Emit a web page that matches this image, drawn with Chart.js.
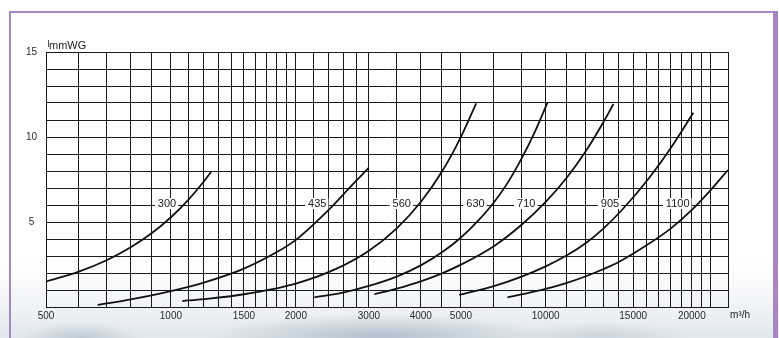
<!DOCTYPE html>
<html>
<head>
<meta charset="utf-8">
<script src="https://cdn.jsdelivr.net/npm/chart.js@4/dist/chart.umd.min.js"></script>
<style>
  html, body { margin: 0; padding: 0; }
  body { width: 779px; height: 338px; overflow: hidden; position: relative; background: #ffffff; }
  #bg { position: absolute; left: 0; top: 0; width: 779px; height: 338px;
    background:
      radial-gradient(ellipse 60px 16px at 80px 338px, rgba(160,178,192,0.55), rgba(160,178,192,0) 100%),
      radial-gradient(ellipse 170px 22px at 380px 336px, rgba(140,160,176,0.55), rgba(140,160,176,0) 100%),
      radial-gradient(ellipse 90px 14px at 600px 336px, rgba(175,190,202,0.45), rgba(175,190,202,0) 100%),
      linear-gradient(180deg, rgba(255,255,255,0) 260px, rgba(230,237,242,0.5) 300px, rgba(208,219,228,0.65) 338px);
  }
  #frame { position: absolute; left: 9px; top: 11px; width: 762px; height: 340px;
    border-left: 2px solid #a886c4; border-top: 2px solid #a886c4; border-right: 5px solid #a886c4; }
  #wrap { position: absolute; left: 0; top: 0; width: 779px; height: 338px; }
</style>
</head>
<body>
<div id="bg"></div>
<div id="frame"></div>
<div id="wrap"><canvas id="c" width="779" height="338"></canvas></div>
<script>
// ---- data ----
const seriesNames = ['300', '435', '560', '630', '710', '905', '1100'];

const flow300 = [500, 600, 700, 800, 900, 1000, 1100, 1200, 1254];
const pres300 = [1.49, 2.08, 2.75, 3.51, 4.35, 5.28, 6.29, 7.38, 8.0];

const flow435 = [666, 800, 1000, 1200, 1500, 1800, 2000, 2450, 2700, 2996];
const pres435 = [0.12, 0.45, 0.94, 1.44, 2.26, 3.23, 3.95, 5.94, 7.04, 8.18];

const flow560 = [1065, 1200, 1500, 2000, 2500, 3000, 3500, 4000, 4500, 5000, 5440];
const pres560 = [0.35, 0.46, 0.75, 1.38, 2.24, 3.31, 4.63, 6.18, 7.97, 10.01, 11.98];

const flow630 = [2216, 2600, 3000, 3500, 4000, 4500, 5000, 5500, 6000, 6500, 7000, 7500, 8080];
const pres630 = [0.57, 0.85, 1.24, 1.79, 2.45, 3.22, 4.09, 5.08, 6.15, 7.36, 8.74, 10.2, 12.02];

const flow710 = [3091, 3500, 4000, 4500, 5000, 6000, 7000, 8000, 9000, 10000, 11000, 11650];
const pres710 = [0.75, 1.08, 1.51, 1.98, 2.49, 3.58, 4.84, 6.18, 7.62, 9.18, 10.84, 11.94];

const flow905 = [4952, 6000, 7000, 8000, 9000, 10000, 11000, 12260, 14200, 16045, 18150];
const pres905 = [0.71, 1.23, 1.79, 2.39, 3.04, 3.77, 4.6, 5.75, 7.59, 9.38, 11.42];

const flow1100 = [6472, 7000, 8000, 9000, 10000, 11000, 12000, 14000, 16000, 18000, 20000, 22000];
const pres1100 = [0.57, 0.74, 1.06, 1.42, 1.81, 2.22, 2.65, 3.63, 4.61, 5.71, 6.89, 8.06];

// printed grid (log paper) and the labels printed under it
const xGridValues = [500, 600, 700, 800, 900, 1000, 1100, 1200, 1300, 1400, 1500, 1600, 1700, 1800, 1900, 2000,
  2200, 2400, 2600, 2800, 3000, 3500, 4000, 4500, 5000, 6000, 7000, 8000, 9000, 10000, 11000, 12000, 13000,
  14000, 15000, 16000, 17000, 18000, 19000, 20000, 22000];
const xTickAt = [500, 1000, 1500, 2000, 3000, 4000, 5000, 8000, 13000, 18000];
const xTickText = ['500', '1000', '1500', '2000', '3000', '4000', '5000', '10000', '15000', '20000'];
const yTickText = [5, 10, 15];
const yUnit = 'mmWG';
const xUnit = 'm³/h';
const labelLevel = 6;

// ---- chart ----
const flows = [flow300, flow435, flow560, flow630, flow710, flow905, flow1100];
const press = [pres300, pres435, pres560, pres630, pres710, pres905, pres1100];
const FONT = "'Liberation Sans', Arial, Helvetica, sans-serif";

const datasets = seriesNames.map((name, i) => ({
  label: name,
  data: flows[i].map((x, k) => ({ x: x, y: press[i][k] })),
  borderColor: '#111111',
  borderWidth: 1.8,
  pointRadius: 0,
  fill: false,
  cubicInterpolationMode: 'monotone'
}));

const extras = {
  id: 'extras',
  afterDatasetsDraw(chart) {
    const ctx = chart.ctx;
    const ys = chart.scales.y;
    const area = chart.chartArea;
    const y6 = ys.getPixelForValue(labelLevel);
    ctx.save();
    ctx.font = '11px ' + FONT;
    ctx.textBaseline = 'middle';
    chart.data.datasets.forEach((ds, i) => {
      const pts = chart.getDatasetMeta(i).data;
      let xc = null;
      for (let k = 1; k < pts.length; k++) {
        const a = pts[k - 1], b = pts[k];
        if (a.y >= y6 && b.y <= y6) {
          const t = (a.y - y6) / (a.y - b.y);
          xc = a.x + t * (b.x - a.x);
          break;
        }
      }
      if (xc === null) return;
      const txt = ds.label;
      const w = ctx.measureText(txt).width;
      const right = xc - 7;
      ctx.fillStyle = '#ffffff';
      ctx.fillRect(right - w - 3, y6 - 7, w + 5, 11);
      ctx.fillStyle = '#222222';
      ctx.textAlign = 'right';
      ctx.fillText(txt, right, y6 - 1.5);
    });
    // unit labels
    ctx.font = '11px ' + FONT;
    ctx.fillStyle = '#222222';
    ctx.textAlign = 'left';
    ctx.fillText(yUnit, area.left + 3, area.top - 6);
    ctx.font = '10px ' + FONT;
    ctx.fillText(xUnit, area.right + 2, area.bottom + 8);
    ctx.strokeStyle = '#555555';
    ctx.lineWidth = 1;
    ctx.beginPath();
    ctx.moveTo(area.left + 2.5, area.top - 12);
    ctx.lineTo(area.left + 2.5, area.top - 5);
    ctx.stroke();
    ctx.restore();
  }
};

new Chart(document.getElementById('c'), {
  type: 'line',
  data: { datasets },
  options: {
    responsive: false,
    animation: false,
    events: [],
    layout: { padding: { left: 0, right: 51, top: 52, bottom: 0 } },
    plugins: { legend: { display: false }, tooltip: { enabled: false } },
    scales: {
      x: {
        type: 'logarithmic',
        min: 500,
        max: 22000,
        afterBuildTicks: (s) => { s.ticks = xGridValues.map(v => ({ value: v })); },
        afterFit: (s) => { s.height = 31; },
        grid: { color: '#1a1a1a', lineWidth: 1, drawTicks: false },
        border: { color: '#1a1a1a', width: 1 },
        ticks: {
          autoSkip: false, maxRotation: 0, minRotation: 0, padding: 3,
          color: '#2a2a2a', font: { family: FONT, size: 10 },
          callback: (v) => { const i = xTickAt.indexOf(v); return i >= 0 ? xTickText[i] : ''; }
        }
      },
      y: {
        type: 'linear',
        min: 0,
        max: 15,
        afterFit: (s) => { s.width = 46; },
        grid: { color: '#1a1a1a', lineWidth: 1, drawTicks: false },
        border: { color: '#1a1a1a', width: 1 },
        ticks: {
          stepSize: 1, autoSkip: false, padding: 9, crossAlign: 'center',
          color: '#2a2a2a', font: { family: FONT, size: 10 },
          callback: (v) => yTickText.includes(v) ? String(v) : ''
        }
      }
    }
  },
  plugins: [extras]
});
</script>
</body>
</html>
